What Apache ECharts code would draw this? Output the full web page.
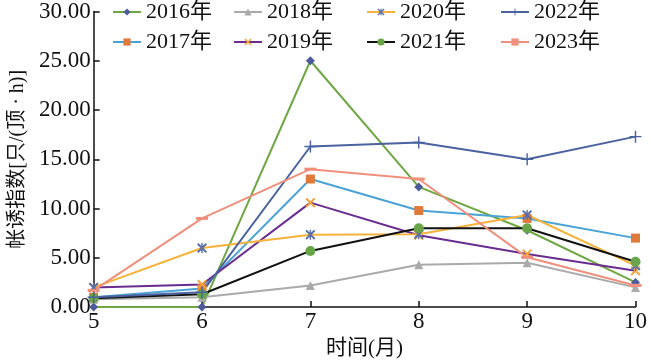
<!DOCTYPE html>
<html><head><meta charset="utf-8">
<script src="https://cdn.jsdelivr.net/npm/echarts@6/dist/echarts.min.js"></script>
<style>html,body{margin:0;padding:0;background:#fff}#c{width:650px;height:364px}</style>
</head><body><div id="c"></div>
<script>
const months = ['5','6','7','8','9','10'];
const yTicks = [0,5,10,15,20,25,30];
const names = ['2016年','2017年','2018年','2019年','2020年','2021年','2022年','2023年'];
const v2016 = [0, 0, 25.0, 12.2, 7.8, 2.5];
const v2017 = [1.0, 1.9, 13.0, 9.8, 9.0, 7.0];
const v2018 = [0.8, 1.0, 2.2, 4.3, 4.5, 2.0];
const v2019 = [2.0, 2.3, 10.6, 7.3, 5.4, 3.7];
const v2020 = [2.0, 6.0, 7.35, 7.4, 9.35, 4.2];
const v2021 = [0.9, 1.3, 5.7, 8.0, 8.0, 4.6];
const v2022 = [1.0, 1.5, 16.3, 16.7, 15.0, 17.3];
const v2023 = [1.7, 9.0, 14.0, 13.0, 5.05, 2.2];

const FONT = 'Liberation Serif, Times New Roman, DejaVu Serif, Noto Sans CJK SC, serif';
const X_PATH = 'path://M0,0.14L0.14,0L0.5,0.36L0.86,0L1,0.14L0.64,0.5L1,0.86L0.86,1L0.5,0.64L0.14,1L0,0.86L0.36,0.5Z';
const AST_PATH = 'path://M0,0.14L0.14,0L0.5,0.36L0.86,0L1,0.14L0.64,0.5L1,0.86L0.86,1L0.5,0.64L0.14,1L0,0.86L0.36,0.5ZM0.43,0H0.57V1H0.43Z';
const PLUS_PATH = 'path://M0.44,0H0.56V0.44H1V0.56H0.56V1H0.44V0.56H0V0.44H0.44Z';

const styles = [
  {data:v2016, line:'#6fa843', mark:'#4d5b9a', symbol:'diamond', size:9},
  {data:v2017, line:'#4aa3d6', mark:'#e07a3a', symbol:'rect', size:9},
  {data:v2018, line:'#aaaaaa', mark:'#aaaaaa', symbol:'triangle', size:9},
  {data:v2019, line:'#6a2d8f', mark:'#f2a33a', symbol:X_PATH, size:10},
  {data:v2020, line:'#f6b23a', mark:'#5b6fa8', symbol:AST_PATH, size:10},
  {data:v2021, line:'#111111', mark:'#67a548', symbol:'circle', size:10},
  {data:v2022, line:'#4a62a0', mark:'#4a62a0', symbol:PLUS_PATH, size:12},
  {data:v2023, line:'#f0907c', mark:'#f0907c', symbol:'rect', size:[12,3]}
];

const series = styles.map((s,i)=>({
  name: names[i], type:'line', data:s.data,
  symbol:s.symbol, symbolSize:s.size, showAllSymbol:true,
  lineStyle:{color:s.line, width:2},
  itemStyle:{color:s.mark},
  emphasis:{disabled:true}, animation:false
}));

const legendBase = {orient:'vertical', top:-4, itemGap:8, itemWidth:28, itemHeight:9,
  textStyle:{fontFamily:FONT, fontSize:22, color:'#111'}, selectedMode:false};
const legendCols = [[0,1],[2,3],[4,5],[6,7]];
const legendLefts = [107, 228, 361, 495];

const chart = echarts.init(document.getElementById('c'));
chart.setOption({
  animation:false,
  backgroundColor:'#fff',
  grid:{left:85, right:12, top:10, bottom:50, containLabel:false},
  legend: legendCols.map((c,k)=>Object.assign({}, legendBase, {left:legendLefts[k], data:c.map(j=>names[j])})),
  xAxis:{type:'category', data:months, boundaryGap:false,
    name:'时间(月)', nameLocation:'middle', nameGap:26,
    nameTextStyle:{fontFamily:FONT, fontSize:21, color:'#111'},
    axisLine:{lineStyle:{color:'#111', width:1.5}},
    axisTick:{inside:true, length:6, lineStyle:{color:'#111', width:1.5}},
    axisLabel:{fontFamily:FONT, fontSize:23, color:'#111', margin:3},
    splitLine:{show:false}},
  yAxis:{type:'value', min:yTicks[0], max:yTicks[yTicks.length-1], interval:5,
    name:'帐诱指数[只/(顶 · h)]', nameLocation:'middle', nameGap:64,
    nameTextStyle:{fontFamily:FONT, fontSize:20, color:'#111'},
    axisLine:{show:true, lineStyle:{color:'#111', width:1.5}},
    axisTick:{show:true, inside:true, length:6, lineStyle:{color:'#111', width:1.5}},
    axisLabel:{fontFamily:FONT, fontSize:23, color:'#111', margin:3, formatter:v=>v.toFixed(2)},
    splitLine:{show:false}},
  series: series
});
</script></body></html>
